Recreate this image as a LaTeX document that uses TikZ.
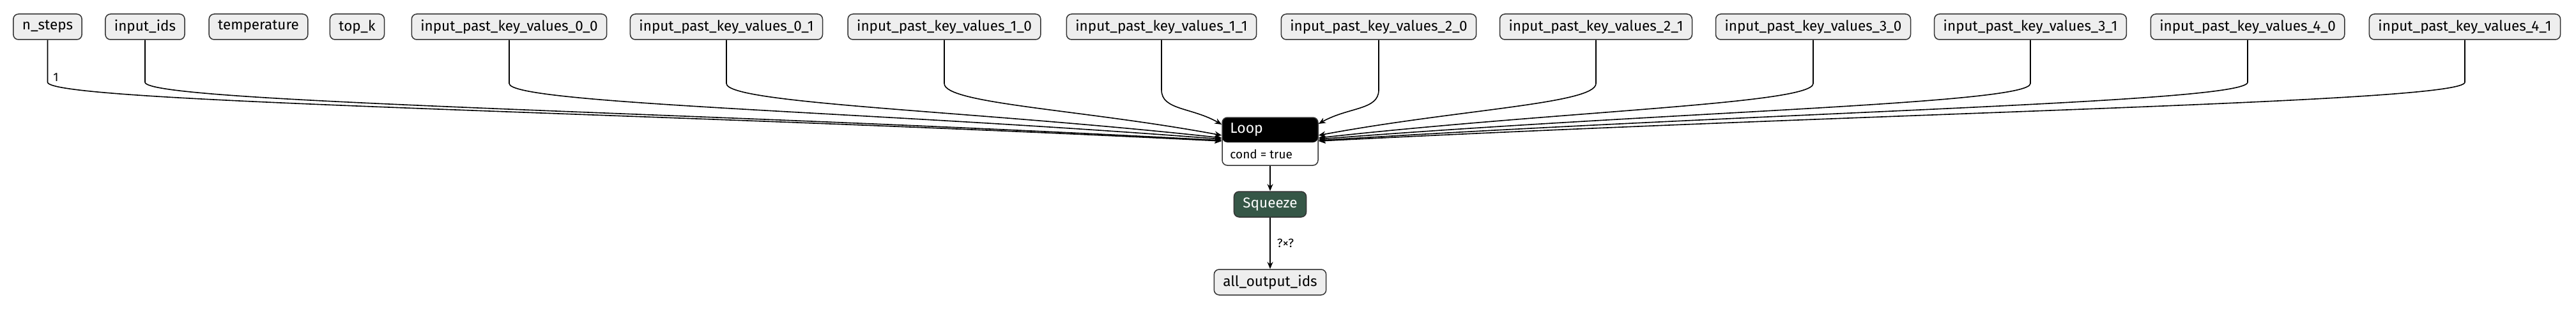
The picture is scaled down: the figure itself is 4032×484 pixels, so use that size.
\documentclass[tikz,border=0pt]{standalone}
\usepackage{fontspec}
\setmainfont{Fira Sans}
\usetikzlibrary{arrows.meta,calc}

\definecolor{inputfill}{HTML}{EEEEEE}
\definecolor{boxline}{HTML}{333333}
\definecolor{opgreen}{HTML}{365747}

\tikzstyle{input}=[draw=boxline, fill=inputfill, rounded corners=8pt, line width=1.5pt, minimum height=40pt, inner xsep=14pt, font=\fontsize{22.5}{27}\selectfont]
\tikzstyle{op}=[input, fill=opgreen, text=white]
\tikzstyle{loopbox}=[draw=boxline, fill=white, rounded corners=8pt, line width=1.5pt, minimum width=150pt, minimum height=75pt, inner sep=0pt]
\tikzstyle{edge}=[line width=1.6pt, -{Stealth[length=11pt,width=9pt]}]
\tikzstyle{lbl}=[font=\fontsize{19}{22}\selectfont, inner sep=2pt]

\begin{document}
\begin{tikzpicture}[x=1pt, y=-1pt]
			\useasboundingbox (0,0) rectangle (4032,484);
			%The graph inputs along the top
			\foreach \pos/\name/\txt in {{(74.5,42)/ns/n\_steps},	{(227,42)/ids/input\_ids},
									{(404.5,42)/temp/temperature},	{(559,42)/topk/top\_k}}
			\node[input] (\name) at \pos {\txt};
			\foreach \pos/\name/\txt in {{(797,42)/kv00/input\_past\_key\_values\_0\_0},	{(1137,42)/kv01/input\_past\_key\_values\_0\_1},
									{(1478,42)/kv10/input\_past\_key\_values\_1\_0},	{(1818,42)/kv11/input\_past\_key\_values\_1\_1},
									{(2158,42)/kv20/input\_past\_key\_values\_2\_0},	{(2498,42)/kv21/input\_past\_key\_values\_2\_1},
									{(2838,42)/kv30/input\_past\_key\_values\_3\_0},	{(3178,42)/kv31/input\_past\_key\_values\_3\_1},
									{(3518,42)/kv40/input\_past\_key\_values\_4\_0},	{(3858,42)/kv41/input\_past\_key\_values\_4\_1}}
			\node[input] (\name) at \pos {\txt};
			%The loop with its black header
			\node[loopbox, path picture={\fill[black] (path picture bounding box.north west) rectangle ([yshift=-39pt]path picture bounding box.north east);}] (loop) at (1988,221.5) {};
			\node[anchor=west, inner sep=0pt, text=white, font=\fontsize{23}{27}\selectfont] (looptitle) at ([xshift=13pt,yshift=-19.5pt]loop.north west) {Loop};
			\node[lbl, anchor=west, inner sep=0pt] (loopcond) at ([xshift=13pt,yshift=18pt]loop.south west) {cond = true};
			%The op and the output
			\node[op] (sq) at (1988,320) {Squeeze};
			\node[input] (out) at (1988,442) {all\_output\_ids};
			%Edges into the loop
			\coordinate (nsbend) at ($(ns.south)+(0,66)$);
			\coordinate (nstip) at ([yshift=0.5pt]loop.west);
			\draw[edge] (ns.south) -- node[lbl, anchor=west, pos=.88, xshift=6pt] (nslab) {1} (nsbend) .. controls +(0,32) and ($(nsbend)!.5!(nstip)$) .. (nstip);
			\foreach \name/\side/\dy/\drop in {ids/west/1.5/66, kv00/west/3.5/68, kv01/west/5.5/68, kv10/west/9.5/68, kv11/west/26.5/78,
									kv20/east/27.5/78, kv21/east/9.5/68, kv30/east/5.5/68, kv31/east/3.5/68, kv40/east/1.5/66, kv41/east/0.5/66}
			{
			\coordinate (tip) at ([yshift=\dy pt]loop.\side);
			\coordinate (bend) at ($(\name.south)+(0,\drop)$);
			\draw[edge] (\name.south) -- (bend) .. controls +(0,32) and ($(bend)!.5!(tip)$) .. (tip);
			}
			%Edges below the loop
			\draw[edge] (loop) -- (sq);
			\draw[edge] (sq) -- node[lbl, anchor=west, xshift=8pt] (sqlab) {?×?} (out);
		\end{tikzpicture}
\end{document}
